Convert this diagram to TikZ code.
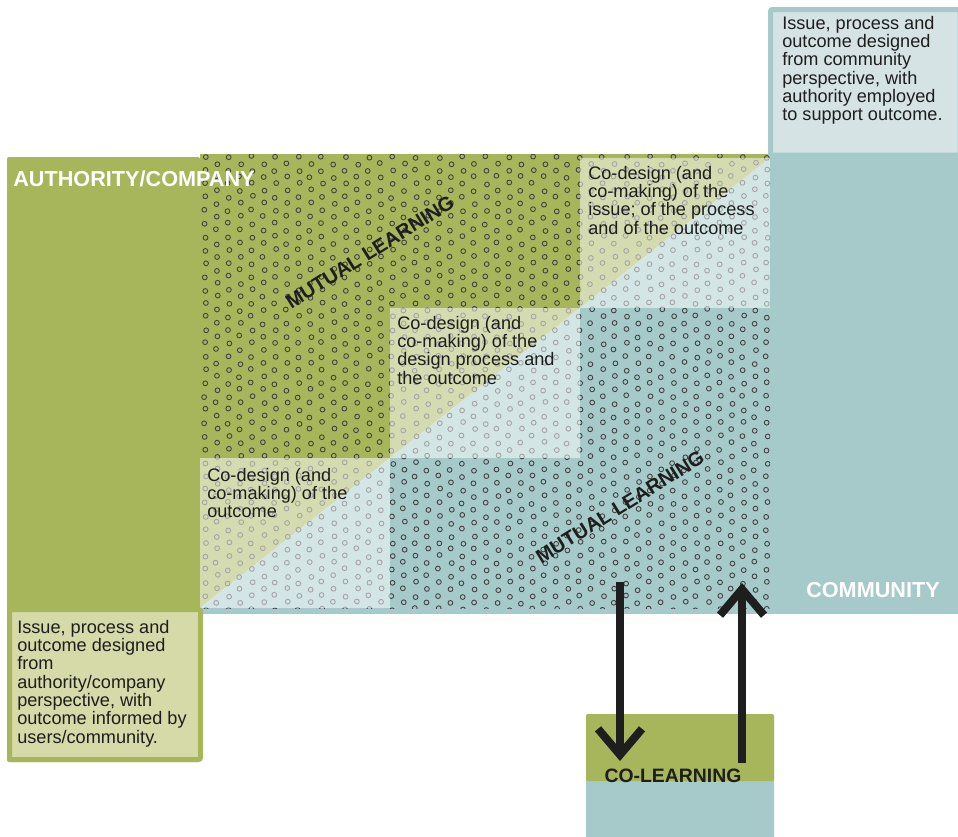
\documentclass[tikz,border=0pt]{standalone}
\usepackage{fontspec}
\setmainfont{Liberation Sans}
\usetikzlibrary{arrows.meta,positioning}

\definecolor{authgreen}{HTML}{A7B55B}
\definecolor{commteal}{HTML}{A6C9C9}
\definecolor{commpale}{HTML}{D5E3E5}
\definecolor{authpale}{HTML}{D6D9A8}
\definecolor{inkgray}{HTML}{1E1E1E}

\tikzset{
  celltext/.style={anchor=north west,align=left,inner sep=0pt,text=inkgray,
    font=\fontsize{12.9}{13}\selectfont},
  bandlabel/.style={inner sep=0pt,text=white,font=\bfseries\fontsize{15.4}{16}\selectfont},
  learnlabel/.style={inner sep=0pt,rotate=32,text=inkgray,font=\bfseries\fontsize{14.2}{15}\selectfont},
  ringdot/.style={draw=black!74,line width=0.22mm},
  paleover/.style={fill=white,fill opacity=0.52},
  bigarrow/.style={draw=inkgray,line width=2mm,-{Straight Barb[length=6.5mm,width=11mm]}}
}

\begin{document}
\begin{tikzpicture}[x=0.25mm,y=-0.25mm]
\useasboundingbox (0,0) rectangle (958,836);

% authority band: left column and thin top edge
\fill[authgreen,rounded corners=0.5mm] (7,157) rectangle (200,762);
\fill[authgreen] (200,154) rectangle (770,159);
% community band: right column and thin bottom edge
\fill[commteal] (768,150) rectangle (958,612);
\fill[commteal] (200,606) rectangle (958,614);

% the square, split along its diagonal
\fill[authgreen] (200,158) -- (770,158) -- (200,608) -- cycle;
\fill[commteal] (770,158) -- (770,608) -- (200,608) -- cycle;

% dot screen over the whole square
\begin{scope}
\clip (200,154) rectangle (770,608);
\pgfmathsetseed{11}
\foreach \c in {0,...,48}{
  \foreach \r in {0,...,34}{
    \pgfmathsetmacro{\dx}{205+11.7*\c+1.2*rand}
    \pgfmathsetmacro{\dy}{157+13.3*\r+6.65*mod(\c,2)+1.2*rand}
    \draw[ringdot] (\dx,\dy) circle[radius=0.6mm];
  }
}
\end{scope}

% lighter cells on the diagonal
\fill[paleover] (580,158) rectangle (770,308);
\fill[paleover] (390,308) rectangle (580,458);
\fill[paleover] (200,458) rectangle (390,608);

\node[celltext] (issuecell) at (588,166) {Co-design (and\\co-making) of the\\issue; of the process\\and of the outcome};
\node[celltext] (processcell) at (397,316) {Co-design (and\\co-making) of the\\design process and\\the outcome};
\node[celltext] (outcomecell) at (207,468) {Co-design (and\\co-making) of the\\outcome};

\node[learnlabel] (learnup) at (370,252) {MUTUAL LEARNING};
\node[learnlabel] (learndown) at (620,507) {MUTUAL LEARNING};

% the two note boxes
\draw[commteal,line width=1.25mm,fill=commpale,rounded corners=0.5mm] (770.5,9.5) rectangle (960,155);
\node[celltext] (commnote) at (782,16) {Issue, process and\\outcome designed\\from community\\perspective, with\\authority employed\\to support outcome.};

\draw[authgreen,line width=1.25mm,fill=authpale,rounded corners=0.5mm] (9.5,609.5) rectangle (200.5,759.5);
\node[celltext] (authnote) at (17,620) {Issue, process and\\outcome designed\\from\\authority/company\\perspective, with\\outcome informed by\\users/community.};

\node[bandlabel] (authlabel) at (134,179) {AUTHORITY/COMPANY};
\node[bandlabel] (commlabel) at (873,590) {COMMUNITY};

% co-learning box
\fill[commteal,rounded corners=0.5mm] (586,714) rectangle (774,845);
\fill[authgreen,rounded corners=0.5mm] (586,714) rectangle (774,781);
\node[inner sep=0pt,text=inkgray,font=\bfseries\fontsize{13.8}{14}\selectfont] (colearn) at (673,776) {CO-LEARNING};

\coordinate (downfrom) at (620,582);
\coordinate (downto) at (620,761);
\coordinate (upfrom) at (742,763);
\coordinate (upto) at (742,583);
\draw[bigarrow] (downfrom) -- (downto);
\draw[bigarrow] (upfrom) -- (upto);
\end{tikzpicture}
\end{document}
